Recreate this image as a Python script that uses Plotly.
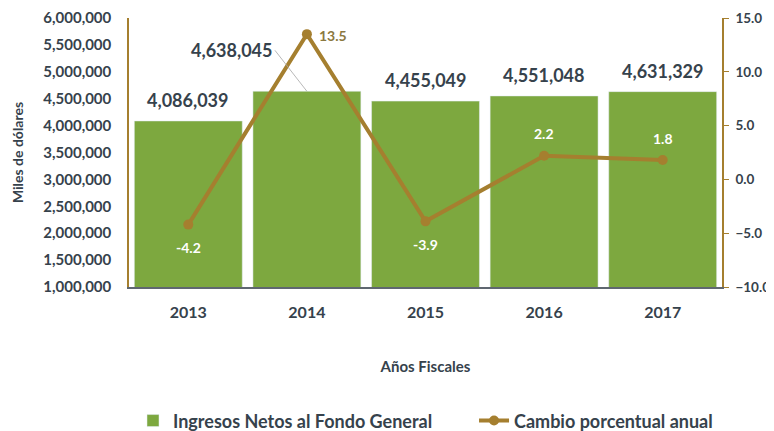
import plotly.graph_objects as go

years = [2013, 2014, 2015, 2016, 2017]
year_labels = ["2013", "2014", "2015", "2016", "2017"]
ingresos = [4086039, 4638045, 4455049, 4551048, 4631329]
cambio = [-4.2, 13.5, -3.9, 2.2, 1.8]
ingresos_labels = ["4,086,039", "4,638,045", "4,455,049", "4,551,048", "4,631,329"]
cambio_labels = ["-4.2", "13.5", "-3.9", "2.2", "1.8"]
left_ticks = list(range(1000000, 6000001, 500000))
right_ticks = [-10, -5, 0, 5, 10, 15]

BAR = "#7DA83F"
LINE = "#A57F2F"
TXT = "#36424C"
FONT = "Lato"

fig = go.Figure()
fig.add_trace(go.Bar(x=years, y=ingresos, name="<b>Ingresos Netos al Fondo General</b>" + "&nbsp;" * 8,
                     marker=dict(color=BAR), yaxis="y"))
fig.add_trace(go.Scatter(x=years, y=cambio, name="<b>Cambio porcentual anual</b>", mode="lines+markers",
                         line=dict(color=LINE, width=4), marker=dict(color=LINE, size=10),
                         yaxis="y2"))

ann = []
for i, (yr, v, lab) in enumerate(zip(years, ingresos, ingresos_labels)):
    if i == 1:
        ann.append(dict(x=yr, y=v, xref="x", yref="y", text="<b>" + lab + "</b>", showarrow=True,
                        arrowhead=0, arrowwidth=0.8, arrowcolor="#A6A6A6",
                        ax=-32, ay=-41, xanchor="right", yanchor="middle", standoff=0,
                        font=dict(family=FONT, size=18, color=TXT)))
    else:
        ann.append(dict(x=yr, y=v, xref="x", yref="y", text="<b>" + lab + "</b>", showarrow=False,
                        yanchor="bottom", yshift=8, font=dict(family=FONT, size=18, color=TXT)))

offsets = [(0, -23, "white"), (None, None, "#8B7840"), (0, -23, "white"), (0, 22, "white"), (0, 22, "white")]
for i, (yr, v, lab) in enumerate(zip(years, cambio, cambio_labels)):
    dx, dy, col = offsets[i]
    if i == 1:
        ann.append(dict(x=yr, y=v, xref="x", yref="y2", text="<b>" + lab + "</b>", showarrow=False,
                        xanchor="left", xshift=10, yshift=-1,
                        font=dict(family=FONT, size=14, color=col)))
    else:
        ann.append(dict(x=yr, y=v, xref="x", yref="y2", text="<b>" + lab + "</b>", showarrow=False,
                        xshift=dx, yshift=dy,
                        font=dict(family=FONT, size=14, color=col)))

# page body has an 8px margin, so the figure is drawn 8px smaller and shifted
fig.update_layout(
    width=766, height=423,
    margin=dict(l=121, r=52, t=10, b=144),
    paper_bgcolor="white", plot_bgcolor="white",
    bargap=0.09,
    font=dict(family=FONT, color=TXT),
    xaxis=dict(type="linear", range=[2012.5, 2017.5], tickvals=years, ticktext=year_labels,
               showline=True, linecolor="#5F6770", linewidth=2, ticks="", showgrid=False, zeroline=False,
               automargin=False, ticklabelstandoff=10,
               tickfont=dict(family=FONT, size=16, color=TXT, weight="bold"),
               title=dict(text="<b>Años Fiscales</b>", font=dict(family=FONT, size=15, color=TXT), standoff=41)),
    yaxis=dict(range=[1000000, 6000000], tickvals=left_ticks, tickformat=",d", showgrid=False,
               showline=True, linecolor=LINE, linewidth=1.5, ticks="", zeroline=False,
               automargin=False, ticklabelstandoff=13,
               tickfont=dict(family=FONT, size=15, color=TXT, weight="bold"),
               title=dict(text="<b>Miles de dólares</b>", font=dict(family=FONT, size=14, color=TXT), standoff=16)),
    yaxis2=dict(range=[-10, 15], tickvals=right_ticks, tickformat=".1f", overlaying="y", side="right",
                showgrid=False, showline=True, linecolor=LINE, linewidth=1.5, ticks="outside",
                ticklen=5, tickcolor=LINE, zeroline=False, automargin=False, ticklabelstandoff=4,
                tickfont=dict(family=FONT, size=13.5, color=TXT, weight="bold")),
    legend=dict(orientation="h", x=0.5, xanchor="center", yref="container", y=0.024, yanchor="middle",
                borderwidth=0, font=dict(family=FONT, size=18, color=TXT), traceorder="normal"),
    annotations=ann,
    showlegend=True,
)
fig.write_html("out.html")
